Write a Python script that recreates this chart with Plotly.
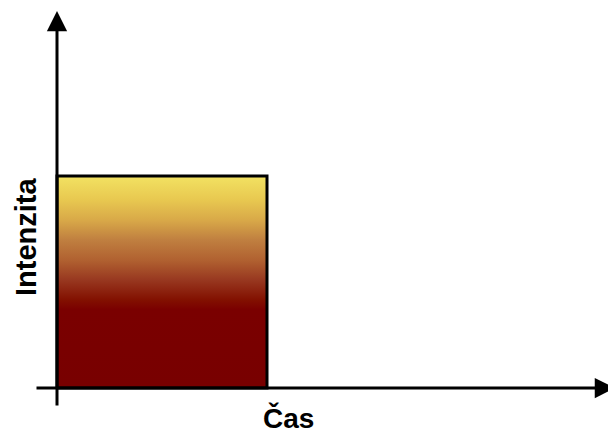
import plotly.graph_objects as go

# Data
time_start = [0.0]
time_end = [1.0]
intensity = [1.0]
x_label = "Čas"
y_label = "Intenzita"

W, H = 608, 433
OFF = 8  # page body margin
# pixel <-> data mapping (bar from x px 57..267, y px 388..176 in the page)
X0_PX, X_UNIT = 57 - OFF, 210
Y0_PX, Y_UNIT = 388 - OFF, 212


def px2x(p):
    return (p - OFF - X0_PX) / X_UNIT


def px2y(p):
    return (Y0_PX - (p - OFF)) / Y_UNIT


fig = go.Figure()

for s, e, v in zip(time_start, time_end, intensity):
    fig.add_trace(go.Scatter(
        x=[s, s, e, e, s],
        y=[0, v, v, 0, 0],
        mode="lines",
        fill="toself",
        line=dict(color="black", width=3),
        fillgradient=dict(
            type="vertical",
            colorscale=[
                [0.0, "#780000"],
                [0.37, "#7a0000"],
                [0.415, "#821000"],
                [0.51, "#983820"],
                [0.60, "#b06030"],
                [0.70, "#c08040"],
                [0.79, "#d8a848"],
                [0.887, "#e8c850"],
                [1.0, "#f2e262"],
            ],
        ),
        hoverinfo="skip",
        showlegend=False,
    ))

annotations = [
    # y axis arrow
    dict(x=px2x(57), y=px2y(11), ax=px2x(57), ay=px2y(407),
         xref="x", yref="y", axref="x", ayref="y",
         showarrow=True, arrowhead=2, arrowsize=1.35, arrowwidth=3,
         arrowcolor="black", text=""),
    # x axis arrow
    dict(x=px2x(615), y=px2y(388), ax=px2x(35), ay=px2y(388),
         xref="x", yref="y", axref="x", ayref="y",
         showarrow=True, arrowhead=2, arrowsize=1.35, arrowwidth=3,
         arrowcolor="black", text=""),
    dict(x=px2x(288), y=px2y(418), xref="x", yref="y", text=x_label,
         showarrow=False, xanchor="center", yanchor="middle",
         font=dict(family="Liberation Sans, Arial", size=28, color="black", weight="bold")),
    dict(x=px2x(26), y=px2y(237), xref="x", yref="y", text=y_label,
         textangle=-90, showarrow=False, xanchor="center", yanchor="middle",
         font=dict(family="Liberation Sans, Arial", size=29, color="black", weight="bold")),
]

fig.update_layout(
    width=W, height=H,
    margin=dict(l=0, r=0, t=0, b=0),
    paper_bgcolor="white", plot_bgcolor="white",
    xaxis=dict(range=[px2x(OFF), px2x(OFF + W)], visible=False, fixedrange=True),
    yaxis=dict(range=[px2y(OFF + H), px2y(OFF)], visible=False, fixedrange=True),
    annotations=annotations,
    showlegend=False,
)

fig.write_html("out.html")
